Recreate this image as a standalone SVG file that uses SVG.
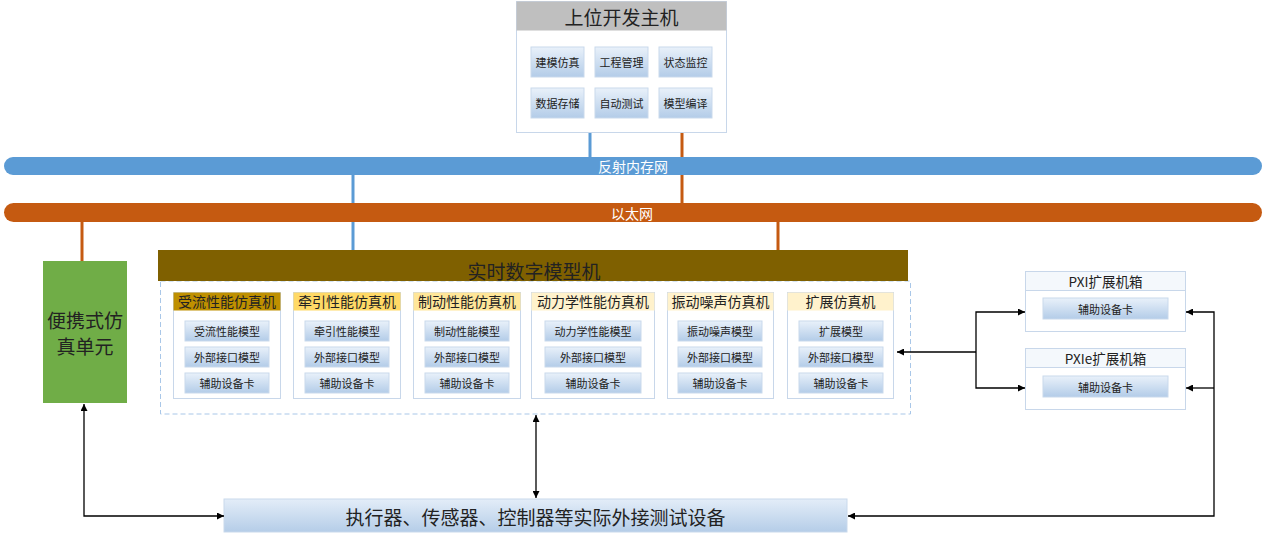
<svg xmlns="http://www.w3.org/2000/svg" width="1266" height="536" viewBox="0 0 1266 536">
<style>
text{font-family:"Noto Sans CJK SC","Noto Sans",sans-serif;fill:#222;text-anchor:middle;dominant-baseline:central}
.btn{fill:url(#gb);stroke:#c9d9ec;stroke-width:1}
.bt{font-size:11px}
.sbox{fill:#fff;stroke:#c8d7ea;stroke-width:1}
.sh{font-size:14px}
.wire{fill:none;stroke:#000;stroke-width:1.3}
.bus{font-size:14px;fill:#fff}
</style>
<defs>
<linearGradient id="gb" x1="0" y1="0" x2="0" y2="1">
<stop offset="0" stop-color="#e9f1fa"/>
<stop offset="1" stop-color="#b3cce8"/>
</linearGradient>
<linearGradient id="gb2" x1="0" y1="0" x2="0" y2="1">
<stop offset="0" stop-color="#e3edf8"/>
<stop offset="1" stop-color="#b5cde8"/>
</linearGradient>
<marker id="ah" viewBox="0 0 10 10" refX="10" refY="5" markerWidth="7" markerHeight="7" orient="auto-start-reverse" markerUnits="userSpaceOnUse">
<path d="M0,0 L10,5 L0,10 z" fill="#000"/>
</marker>
</defs>

<g id="bus-links">
<line x1="590" y1="133" x2="590" y2="160" stroke="#5b9bd5" stroke-width="3"/>
<line x1="682" y1="133" x2="682" y2="206" stroke="#c55a11" stroke-width="3"/>
<line x1="353" y1="172" x2="353" y2="251" stroke="#5b9bd5" stroke-width="3"/>
<line x1="82" y1="219" x2="82" y2="262" stroke="#c55a11" stroke-width="3"/>
<line x1="778" y1="219" x2="778" y2="251" stroke="#c55a11" stroke-width="3"/>
</g>

<g id="reflective-memory-bus">
<rect x="4" y="157" width="1258" height="18" rx="9" fill="#5b9bd5"/>
<text class="bus" x="633" y="166">反射内存网</text>
</g>
<g id="ethernet-bus">
<rect x="4" y="203" width="1258" height="19" rx="9.5" fill="#c55a11"/>
<text class="bus" x="632" y="212.5">以太网</text>
</g>

<g id="host">
<rect x="516.5" y="1.5" width="210" height="131" fill="#fff" stroke="#c8d7ea"/>
<rect x="516.5" y="1.5" width="210" height="29" fill="#bfbfbf"/>
<text x="621.5" y="16.5" font-size="19">上位开发主机</text>
<rect class="btn" x="531" y="47" width="53" height="30"/><text class="bt" x="557.5" y="62">建模仿真</text>
<rect class="btn" x="595" y="47" width="53" height="30"/><text class="bt" x="621.5" y="62">工程管理</text>
<rect class="btn" x="659" y="47" width="53" height="30"/><text class="bt" x="685.5" y="62">状态监控</text>
<rect class="btn" x="531" y="88" width="53" height="30"/><text class="bt" x="557.5" y="103">数据存储</text>
<rect class="btn" x="595" y="88" width="53" height="30"/><text class="bt" x="621.5" y="103">自动测试</text>
<rect class="btn" x="659" y="88" width="53" height="30"/><text class="bt" x="685.5" y="103">模型编译</text>
</g>

<g id="portable-unit">
<rect x="43" y="261" width="84" height="142" fill="#70ad47"/>
<text x="85" y="319" font-size="19">便携式仿</text>
<text x="85" y="345" font-size="19">真单元</text>
</g>

<g id="realtime-machine">
<rect x="160.5" y="281" width="750" height="133" fill="#fff" stroke="#a9c7e8" stroke-dasharray="5,3"/>
<rect x="158" y="250" width="750" height="31" fill="#7f6000"/>
<text x="534" y="270" font-size="19" fill="#1a1a1a">实时数字模型机</text>
</g>

<g id="sim-current">
<rect class="sbox" x="173.5" y="292.5" width="107" height="106"/>
<rect x="173.5" y="292.5" width="107" height="18" fill="#bf9000"/>
<text class="sh" x="227" y="301">受流性能仿真机</text>
<rect class="btn" x="185" y="321" width="84" height="20"/><text class="bt" x="227" y="331">受流性能模型</text>
<rect class="btn" x="185" y="347" width="84" height="20"/><text class="bt" x="227" y="357">外部接口模型</text>
<rect class="btn" x="185" y="373" width="84" height="20"/><text class="bt" x="227" y="383">辅助设备卡</text>
</g>
<g id="sim-traction">
<rect class="sbox" x="293.5" y="292.5" width="107" height="106"/>
<rect x="293.5" y="292.5" width="107" height="18" fill="#ffd966"/>
<text class="sh" x="347" y="301">牵引性能仿真机</text>
<rect class="btn" x="305" y="321" width="84" height="20"/><text class="bt" x="347" y="331">牵引性能模型</text>
<rect class="btn" x="305" y="347" width="84" height="20"/><text class="bt" x="347" y="357">外部接口模型</text>
<rect class="btn" x="305" y="373" width="84" height="20"/><text class="bt" x="347" y="383">辅助设备卡</text>
</g>
<g id="sim-brake">
<rect class="sbox" x="413.5" y="292.5" width="107" height="106"/>
<rect x="413.5" y="292.5" width="107" height="18" fill="#ffe699"/>
<text class="sh" x="467" y="301">制动性能仿真机</text>
<rect class="btn" x="425" y="321" width="84" height="20"/><text class="bt" x="467" y="331">制动性能模型</text>
<rect class="btn" x="425" y="347" width="84" height="20"/><text class="bt" x="467" y="357">外部接口模型</text>
<rect class="btn" x="425" y="373" width="84" height="20"/><text class="bt" x="467" y="383">辅助设备卡</text>
</g>
<g id="sim-dynamics">
<rect class="sbox" x="531.5" y="292.5" width="123" height="106"/>
<rect x="531.5" y="292.5" width="123" height="18" fill="#fff2cc"/>
<text class="sh" x="593" y="301">动力学性能仿真机</text>
<rect class="btn" x="545" y="321" width="96" height="20"/><text class="bt" x="593" y="331">动力学性能模型</text>
<rect class="btn" x="545" y="347" width="96" height="20"/><text class="bt" x="593" y="357">外部接口模型</text>
<rect class="btn" x="545" y="373" width="96" height="20"/><text class="bt" x="593" y="383">辅助设备卡</text>
</g>
<g id="sim-vibration">
<rect class="sbox" x="667.5" y="292.5" width="106" height="106"/>
<rect x="667.5" y="292.5" width="106" height="18" fill="#fff2cc"/>
<text class="sh" x="720.5" y="301">振动噪声仿真机</text>
<rect class="btn" x="678" y="321" width="84" height="20"/><text class="bt" x="720" y="331">振动噪声模型</text>
<rect class="btn" x="678" y="347" width="84" height="20"/><text class="bt" x="720" y="357">外部接口模型</text>
<rect class="btn" x="678" y="373" width="84" height="20"/><text class="bt" x="720" y="383">辅助设备卡</text>
</g>
<g id="sim-extension">
<rect class="sbox" x="787.5" y="292.5" width="106" height="106"/>
<rect x="787.5" y="292.5" width="106" height="18" fill="#fff2cc"/>
<text class="sh" x="840.5" y="301">扩展仿真机</text>
<rect class="btn" x="799" y="321" width="84" height="20"/><text class="bt" x="841" y="331">扩展模型</text>
<rect class="btn" x="799" y="347" width="84" height="20"/><text class="bt" x="841" y="357">外部接口模型</text>
<rect class="btn" x="799" y="373" width="84" height="20"/><text class="bt" x="841" y="383">辅助设备卡</text>
</g>

<g id="pxi">
<rect class="sbox" x="1025.5" y="271.5" width="160" height="60"/>
<rect x="1025.5" y="271.5" width="160" height="19" fill="#f4f8fc" stroke="#c8d7ea"/>
<text x="1105.5" y="281" font-size="13.5">PXI扩展机箱</text>
<rect class="btn" x="1043" y="298" width="125" height="21"/><text class="bt" x="1105.5" y="308.5">辅助设备卡</text>
</g>
<g id="pxie">
<rect class="sbox" x="1025.5" y="348.5" width="160" height="61"/>
<rect x="1025.5" y="348.5" width="160" height="19" fill="#f4f8fc" stroke="#c8d7ea"/>
<text x="1105.5" y="358" font-size="13.5">PXIe扩展机箱</text>
<rect class="btn" x="1043" y="376" width="125" height="21"/><text class="bt" x="1105.5" y="386.5">辅助设备卡</text>
</g>

<g id="test-equipment">
<rect x="224" y="499" width="623" height="33" fill="url(#gb2)" stroke="#c9d9ec"/>
<text x="535.5" y="516" font-size="19">执行器、传感器、控制器等实际外接测试设备</text>
</g>

<g id="connectors">
<line class="wire" x1="976" y1="352" x2="897" y2="352" marker-end="url(#ah)"/>
<path class="wire" d="M1025,312 H976 V388 H1025" marker-start="url(#ah)" marker-end="url(#ah)"/>
<path class="wire" d="M1186,312 H1214 V516 H848" marker-start="url(#ah)" marker-end="url(#ah)"/>
<line class="wire" x1="1214" y1="388" x2="1186" y2="388" marker-end="url(#ah)"/>
<path class="wire" d="M84,404 V516 H224" marker-start="url(#ah)" marker-end="url(#ah)"/>
<line class="wire" x1="536" y1="415" x2="536" y2="498" marker-start="url(#ah)" marker-end="url(#ah)"/>
</g>
</svg>
